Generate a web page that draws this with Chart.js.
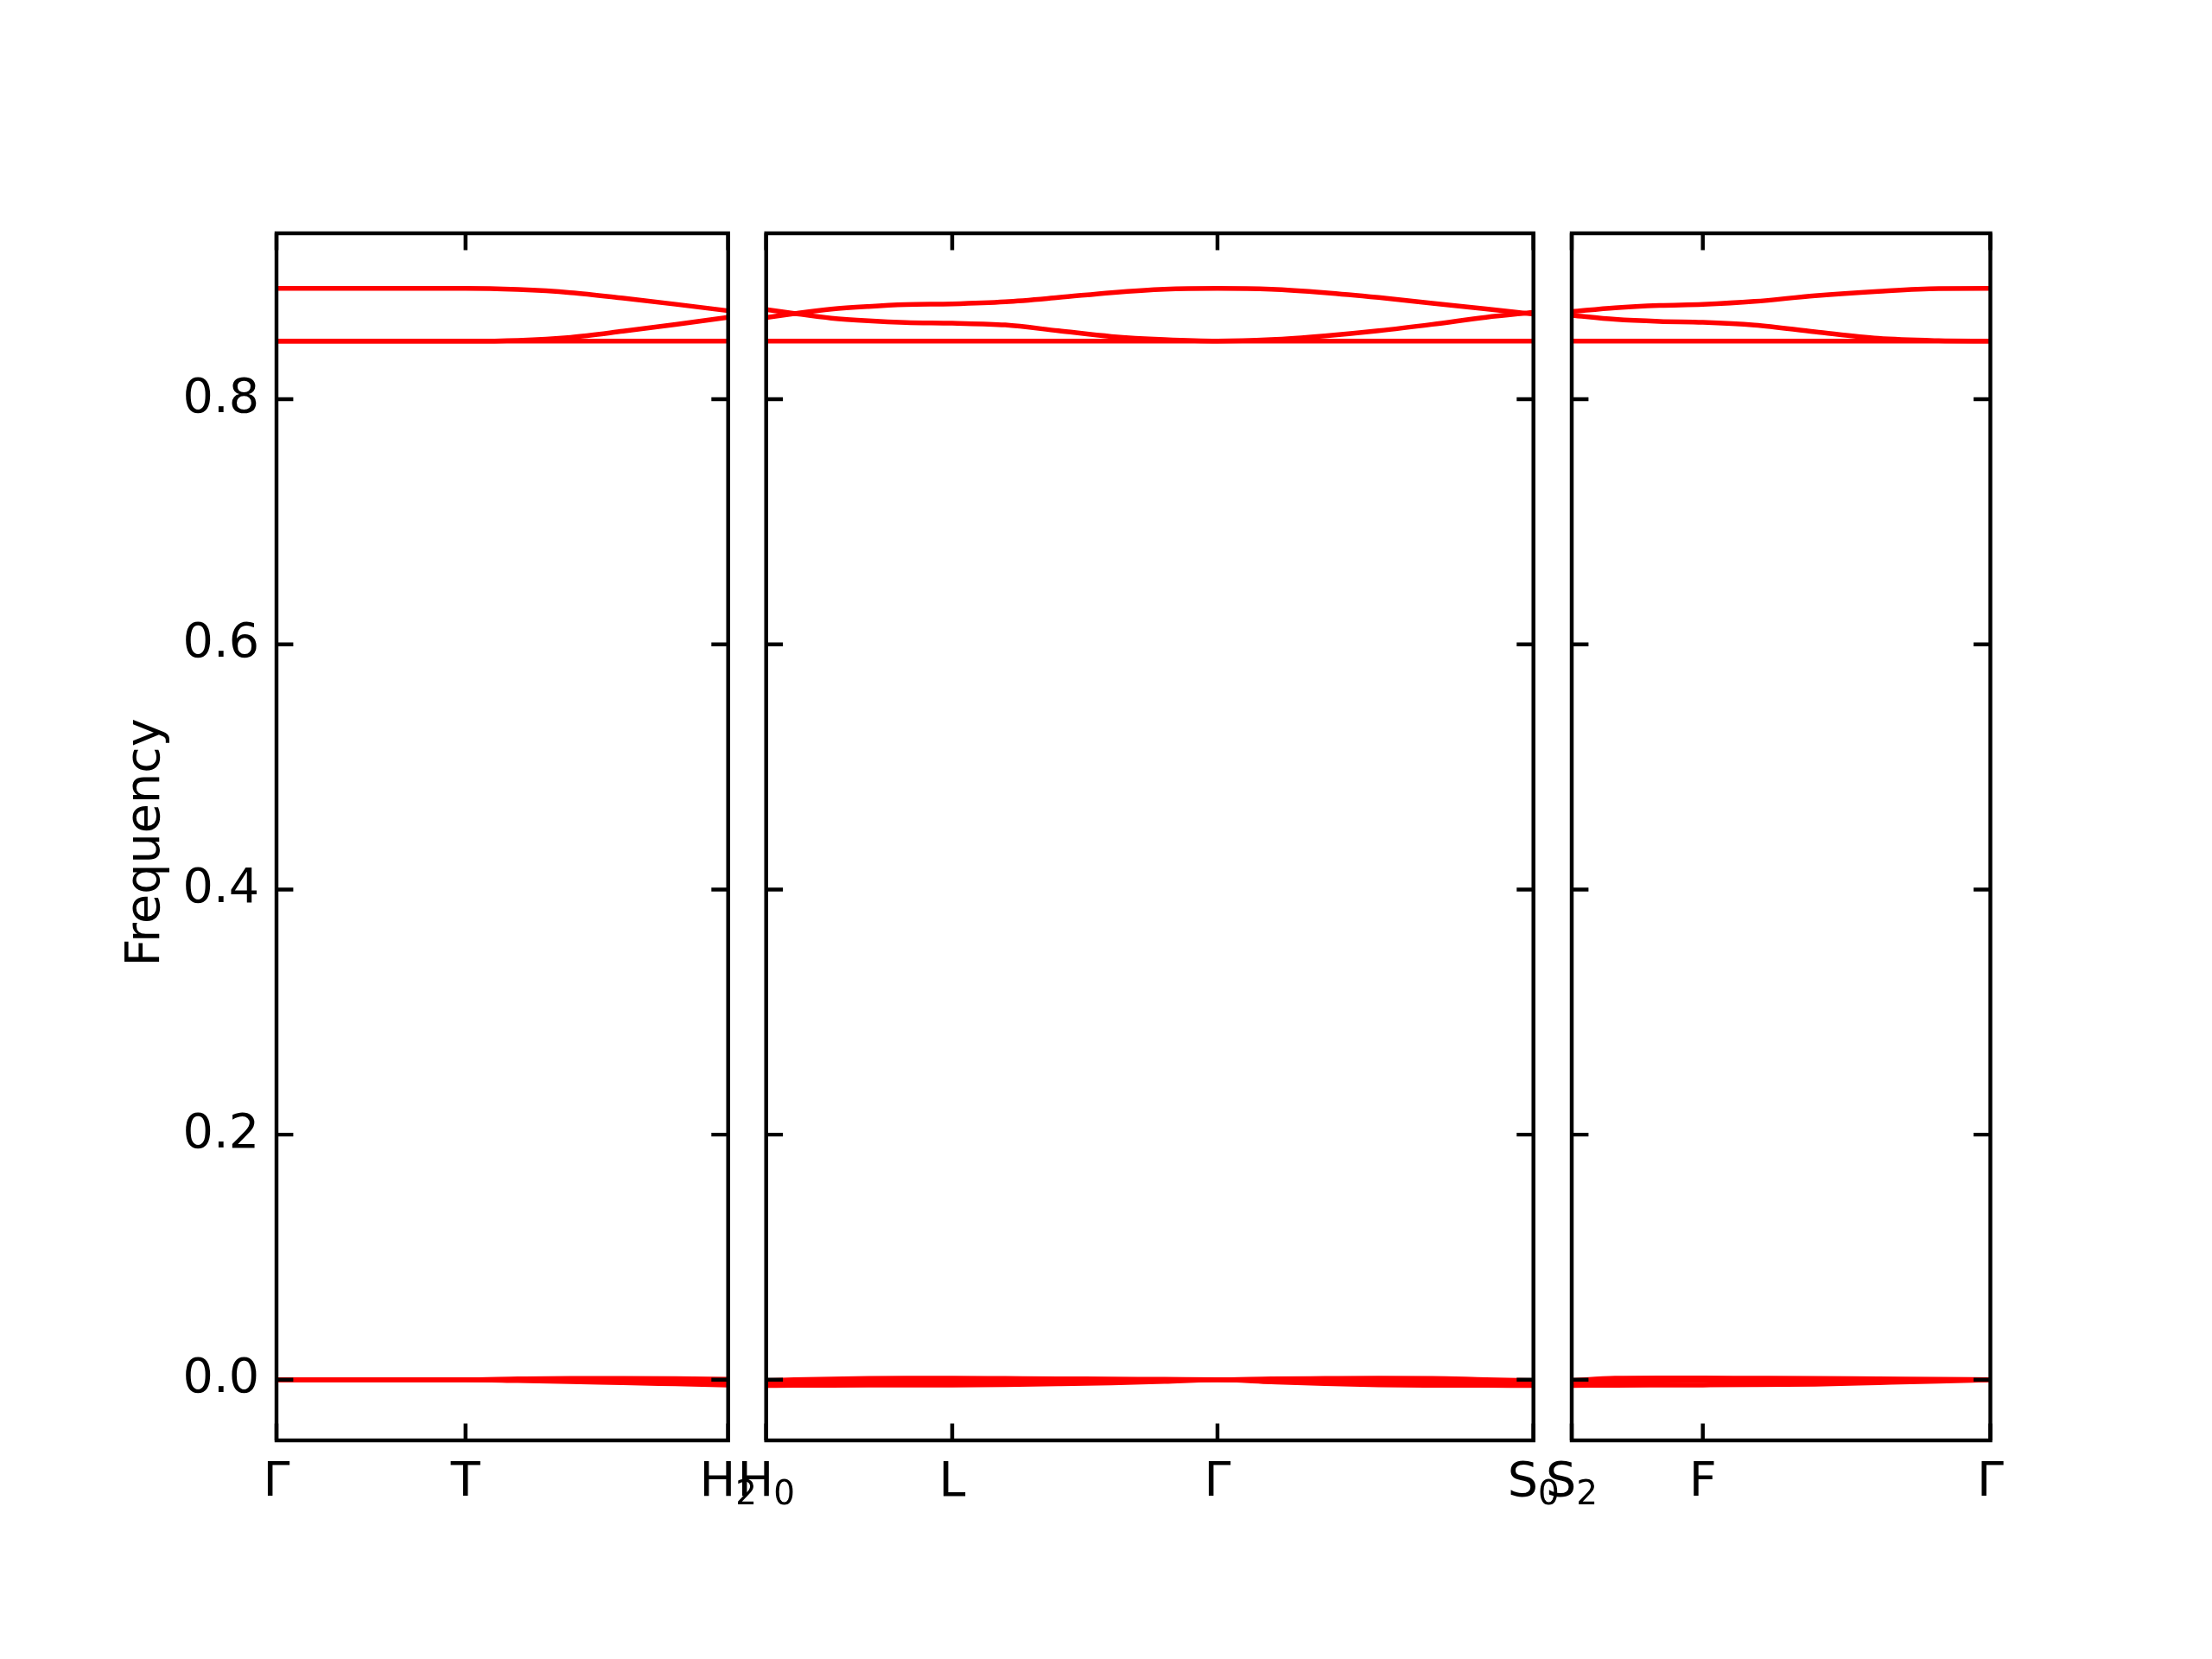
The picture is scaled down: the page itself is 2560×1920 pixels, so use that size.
<!DOCTYPE html>
<html>
<head>
<meta charset="utf-8">
<script src="https://cdn.jsdelivr.net/npm/chart.js@4.4.0/dist/chart.umd.min.js"></script>
<style>
html,body{margin:0;padding:0;background:#fff;}
#wrap{position:relative;width:2560px;height:1920px;}
canvas{position:absolute;left:0;top:0;}
</style>
</head>
<body>
<div id="wrap">
<canvas id="p1" width="2560" height="1920"></canvas>
<canvas id="p2" width="2560" height="1920"></canvas>
<canvas id="p3" width="2560" height="1920"></canvas>
</div>
<script>
'use strict';

// ---- data (path distance along k-path, band frequencies) ----
// panel 1 : Γ - T - H2
var p1X     = [0, 0.11, 0.2188, 0.2796, 0.3404, 0.4011, 0.4619, 0.5227];
var p1Top   = [0.8905, 0.8905, 0.8905, 0.8895, 0.8870, 0.8825, 0.8775, 0.8722];
var p1Mid   = [0.8474, 0.8474, 0.8474, 0.8480, 0.8505, 0.8555, 0.8610, 0.8668];
var p1Flat  = [0.8474, 0.8474, 0.8474, 0.8474, 0.8474, 0.8474, 0.8474, 0.8474];
var p1Ac1   = [0, 0, 0, 0.0007, 0.0011, 0.0011, 0.0009, 0.0004];
var p1Ac2   = [0, 0, 0, -0.0003, -0.0007, -0.0012, -0.0016, -0.0020];
var p1Ac3   = [0, 0, 0, -0.0007, -0.0015, -0.0025, -0.0034, -0.0043];
var p1Ticks = [0, 0.2188, 0.5227];
var p1Labels = ['Γ', 'T', 'H_2'];

// panel 2 : H0 - L - Γ - S0
var p2X     = [0.5227, 0.5550, 0.5981, 0.6411, 0.6842, 0.7380, 0.7994, 0.8608, 0.9222, 0.9836, 1.0450,
               1.1072, 1.1693, 1.2315, 1.2937, 1.3558, 1.4107];
var p2A     = [0.8666, 0.8698, 0.8735, 0.8757, 0.8772, 0.8778, 0.8795, 0.8830, 0.8870, 0.8898, 0.8905,
               0.8898, 0.8870, 0.8830, 0.8783, 0.8737, 0.8694];
var p2B     = [0.8732, 0.8700, 0.8662, 0.8640, 0.8626, 0.8620, 0.8606, 0.8559, 0.8512, 0.8486, 0.8474,
               0.8486, 0.8517, 0.8559, 0.8611, 0.8669, 0.8709];
var p2Flat  = [0.8474, 0.8474, 0.8474, 0.8474, 0.8474, 0.8474, 0.8474, 0.8474, 0.8474, 0.8474, 0.8474,
               0.8474, 0.8474, 0.8474, 0.8474, 0.8474, 0.8474];
var p2Ac1   = [-0.0007, 0.0000, 0.0005, 0.0010, 0.0012, 0.0012, 0.0010, 0.0008, 0.0005, 0.0003, 0,
               0.0007, 0.0010, 0.0012, 0.0011, 0.0000, -0.0007];
var p2Ac2   = [-0.0025, -0.0022, -0.0018, -0.0015, -0.0013, -0.0012, -0.0010, -0.0008, -0.0005, -0.0002, 0,
               -0.0006, -0.0012, -0.0016, -0.0020, -0.0024, -0.0026];
var p2Ac3   = [-0.0047, -0.0046, -0.0045, -0.0044, -0.0043, -0.0043, -0.0040, -0.0034, -0.0026, -0.0014, 0,
               -0.0017, -0.0032, -0.0042, -0.0045, -0.0046, -0.0047];
var p2Ticks = [0.5227, 0.7380, 1.0450, 1.4107];
var p2Labels = ['H_0', 'L', 'Γ', 'S_0'];

// panel 3 : S2 - F - Γ
var p3X     = [1.4107, 1.4608, 1.5123, 1.5624, 1.6223, 1.6922, 1.7654, 1.8353, 1.8952];
var p3P     = [0.8715, 0.8746, 0.8765, 0.8774, 0.8798, 0.8845, 0.8880, 0.8903, 0.8905];
var p3Q     = [0.8685, 0.8652, 0.8635, 0.8628, 0.8605, 0.8551, 0.8497, 0.8478, 0.8474];
var p3Flat  = [0.8474, 0.8474, 0.8474, 0.8474, 0.8474, 0.8474, 0.8474, 0.8474, 0.8474];
var p3Ac1   = [-0.0007, 0.0012, 0.0014, 0.0014, 0.0012, 0.0011, 0.0007, 0.0004, 0];
var p3Ac2   = [-0.0025, -0.0015, -0.0010, -0.0009, -0.0008, -0.0006, -0.0004, -0.0002, 0];
var p3Ac3   = [-0.0047, -0.0045, -0.0044, -0.0043, -0.0041, -0.0036, -0.0024, -0.0012, 0];
var p3Ticks = [1.4107, 1.5624, 1.8952];
var p3Labels = ['S_2', 'F', 'Γ'];

var yTicks = [0, 0.2, 0.4, 0.6, 0.8];
var yTickLabels = ['0.0', '0.2', '0.4', '0.6', '0.8'];
var yMin = -0.0495, yMax = 0.9354;
var yTitle = 'Frequency';

// ---- look ----
var FONT = 'DejaVu Sans';
var FS = 55.6;
var TICK_LEN = 19.4;
var SPINE_W = 4.44;
var LABEL_BASE = 1731;   // baseline of x tick labels
var SUB_DROP = 9.5;      // subscript shift below baseline
Chart.defaults.color = '#000';
Chart.defaults.font.family = FONT;
Chart.defaults.font.size = FS;

// spines + inward ticks on all four sides, x labels with subscripts, y title
var frameTicks = {
  id: 'frameTicks',
  afterDraw: function (chart) {
    var ctx = chart.ctx;
    var a = chart.chartArea;
    var xs = chart.scales.x, ys = chart.scales.y;
    var opt = chart.options.plugins.frameTicks;
    ctx.save();
    ctx.strokeStyle = '#000';
    ctx.lineWidth = SPINE_W;
    ctx.lineCap = 'butt';
    ctx.beginPath();
    opt.xTicks.forEach(function (v) {
      var px = xs.getPixelForValue(v);
      ctx.moveTo(px, a.bottom); ctx.lineTo(px, a.bottom - TICK_LEN);
      ctx.moveTo(px, a.top); ctx.lineTo(px, a.top + TICK_LEN);
    });
    yTicks.forEach(function (v) {
      var py = ys.getPixelForValue(v);
      ctx.moveTo(a.left, py); ctx.lineTo(a.left + TICK_LEN, py);
      ctx.moveTo(a.right, py); ctx.lineTo(a.right - TICK_LEN, py);
    });
    ctx.stroke();
    ctx.lineJoin = 'miter';
    ctx.strokeRect(a.left, a.top, a.right - a.left, a.bottom - a.top);

    // x tick labels, "X_n" -> X with subscript n
    ctx.fillStyle = '#000';
    ctx.textBaseline = 'alphabetic';
    ctx.textAlign = 'left';
    var bigFont = FS + 'px "' + FONT + '"';
    var subFont = (FS * 0.7) + 'px "' + FONT + '"';
    opt.xLabels.forEach(function (lab, i) {
      var parts = lab.split('_');
      var main = parts[0], sub = parts[1] || '';
      ctx.font = bigFont;
      var w1 = ctx.measureText(main).width;
      ctx.font = subFont;
      var w2 = sub ? ctx.measureText(sub).width : 0;
      var x0 = xs.getPixelForValue(opt.xTicks[i]) - (w1 + w2) / 2;
      ctx.font = bigFont;
      ctx.fillText(main, x0, LABEL_BASE);
      if (sub) {
        ctx.font = subFont;
        ctx.fillText(sub, x0 + w1, LABEL_BASE + SUB_DROP);
      }
    });

    if (opt.title) {
      ctx.translate(170, 975);
      ctx.rotate(-Math.PI / 2);
      ctx.textAlign = 'center';
      ctx.textBaseline = 'middle';
      ctx.font = bigFont;
      ctx.fillText(opt.title, 0, 0);
    }
    ctx.restore();
  }
};

function toPts(xs, ys) {
  return xs.map(function (x, i) { return {x: x, y: ys[i]}; });
}

function makePanel(id, xArr, bands, ticks, labels, left, right, showY) {
  var datasets = bands.map(function (b) {
    return {
      data: toPts(xArr, b),
      borderColor: '#ff0000',
      borderWidth: 5.5,
      pointRadius: 0,
      fill: false,
      cubicInterpolationMode: 'monotone'
    };
  });
  new Chart(document.getElementById(id), {
    type: 'line',
    data: {datasets: datasets},
    plugins: [frameTicks],
    options: {
      responsive: false,
      animation: false,
      layout: {padding: {left: 0, right: 2560 - right, top: 270, bottom: 0}},
      plugins: {
        legend: {display: false},
        tooltip: {enabled: false},
        frameTicks: {xTicks: ticks, xLabels: labels, title: showY ? yTitle : null}
      },
      scales: {
        x: {
          type: 'linear',
          min: xArr[0],
          max: xArr[xArr.length - 1],
          grid: {display: false, drawTicks: false},
          border: {display: false},
          afterFit: function (s) { s.height = 1920 - 1667; },
          afterBuildTicks: function (s) {
            s.ticks = ticks.map(function (v) { return {value: v}; });
          },
          ticks: {display: false}
        },
        y: {
          type: 'linear',
          min: yMin,
          max: yMax,
          grid: {display: false, drawTicks: false},
          border: {display: false},
          afterFit: function (s) { s.width = left; },
          afterBuildTicks: function (s) {
            s.ticks = yTicks.map(function (v) { return {value: v}; });
          },
          ticks: {
            display: showY,
            padding: 20,
            color: '#000',
            callback: function (v, i) { return yTickLabels[i]; }
          }
        }
      }
    }
  });
}

makePanel('p1', p1X, [p1Top, p1Mid, p1Flat, p1Ac1, p1Ac2, p1Ac3], p1Ticks, p1Labels, 320, 842.7, true);
makePanel('p2', p2X, [p2A, p2B, p2Flat, p2Ac1, p2Ac2, p2Ac3], p2Ticks, p2Labels, 886.7, 1774.7, false);
makePanel('p3', p3X, [p3P, p3Q, p3Flat, p3Ac1, p3Ac2, p3Ac3], p3Ticks, p3Labels, 1819, 2303.5, false);
</script>
</body>
</html>
